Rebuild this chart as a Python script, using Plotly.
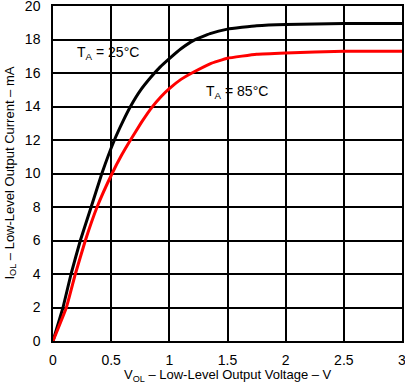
import plotly.graph_objects as go

# Data
v_25 = [0, 0.086, 0.155, 0.235, 0.328, 0.42, 0.528, 0.6, 0.666, 0.75, 0.839, 0.92, 1.0, 1.1, 1.21, 1.35, 1.5, 1.75, 2.0, 2.5, 3.0]
i_25 = [0, 2, 4, 6, 8, 10, 12, 13.1, 14, 14.95, 15.73, 16.35, 16.86, 17.45, 17.95, 18.35, 18.62, 18.82, 18.9, 18.95, 18.95]
v_85 = [0, 0.115, 0.192, 0.278, 0.379, 0.508, 0.59, 0.666, 0.76, 0.85, 0.93, 1.0, 1.1, 1.21, 1.35, 1.5, 1.75, 2.0, 2.5, 3.0]
i_85 = [0, 2, 4, 6, 8, 10, 11.1, 12, 13.05, 13.95, 14.6, 15.07, 15.62, 16.06, 16.55, 16.88, 17.12, 17.2, 17.3, 17.3]
x_step = 0.5
y_step = 2

FONT = "Liberation Sans, Arial, sans-serif"

fig = go.Figure()
fig.add_trace(go.Scatter(x=v_25, y=i_25, mode="lines", line=dict(color="black", width=3, shape="spline", smoothing=0.3), showlegend=False))
fig.add_trace(go.Scatter(x=v_85, y=i_85, mode="lines", line=dict(color="#ff0000", width=3, shape="spline", smoothing=0.3), showlegend=False))

fig.add_annotation(x=0.477, y=17.2, text="T<sub>A</sub> = 25°C", showarrow=False, font=dict(size=14, color="black", family=FONT))
fig.add_annotation(x=1.58, y=14.85, text="T<sub>A</sub> = 85°C", showarrow=False, font=dict(size=14, color="black", family=FONT))

# axis titles
fig.add_annotation(xref="paper", yref="paper", x=0.5, y=-0.103, yanchor="middle", xanchor="center",
                   text="V<sub>OL</sub> – Low-Level Output Voltage – V", showarrow=False,
                   font=dict(size=13, color="black", family=FONT))
fig.add_annotation(xref="paper", yref="paper", x=-0.123, y=0.5, xanchor="center", yanchor="middle", textangle=-90,
                   text="I<sub>OL</sub> – Low-Level Output Current – mA", showarrow=False,
                   font=dict(size=13, color="black", family=FONT))

fig.update_layout(
    template="none",
    width=405, height=383,
    margin=dict(l=53, r=3, t=6, b=42, autoexpand=False),
    paper_bgcolor="white", plot_bgcolor="white",
    font=dict(family=FONT, size=14, color="black"),
    xaxis=dict(range=[0, 3], tick0=0, dtick=x_step, showgrid=True, gridcolor="black", gridwidth=1.5,
               zeroline=False, showline=True, linecolor="black", linewidth=1.5, mirror=True,
               ticks="outside", ticklen=5, tickcolor="white", ticklabeloverflow="allow", automargin=False),
    yaxis=dict(range=[0, 20], tick0=0, dtick=y_step, showgrid=True, gridcolor="black", gridwidth=1.5,
               zeroline=False, showline=True, linecolor="black", linewidth=1.5, mirror=True,
               ticks="outside", ticklen=8, tickcolor="white", ticklabeloverflow="allow", automargin=False),
)

fig.write_html("out.html", config={"displayModeBar": False}, post_script="document.body.style.margin='0';")
